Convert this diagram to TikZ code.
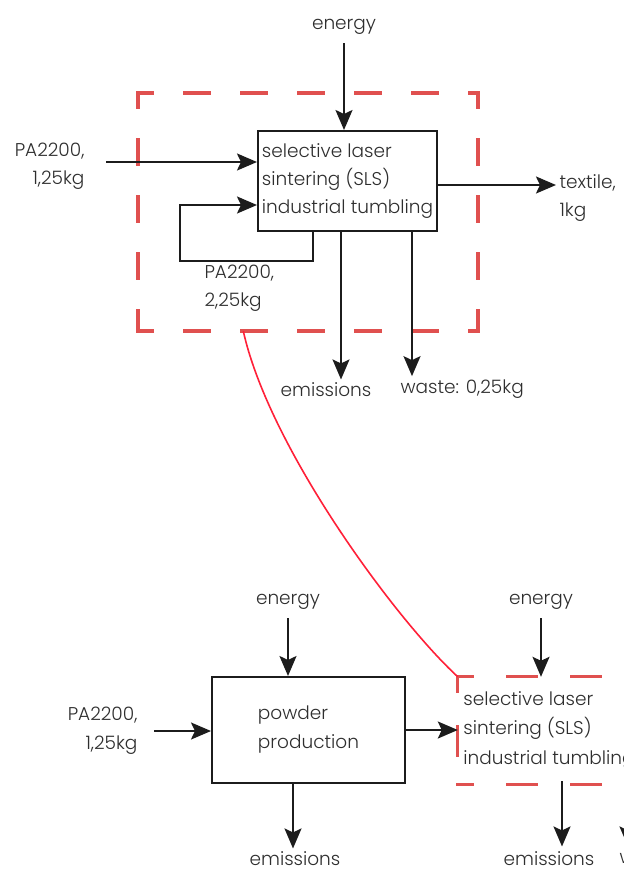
\documentclass[tikz,border=0pt]{standalone}
\usepackage{fontspec}
\IfFontExistsTF{Poppins Light}{\setmainfont{Poppins Light}}{\setmainfont{Poppins}}
\usetikzlibrary{arrows.meta,calc}

\definecolor{ink}{HTML}{1C1C1C}
\definecolor{txt}{HTML}{2E2E2E}
\definecolor{sysred}{HTML}{E0504F}
\definecolor{linkred}{HTML}{FF2038}

\tikzset{
    every node/.style={font=\fontsize{18.5}{28}\selectfont, text=txt},
    procbox/.style={draw=ink, line width=2pt, inner sep=0pt},
    sysbox/.style={inner sep=0pt},
    sysedge/.style={draw=sysred, line width=4pt, line cap=rect, dash pattern=on 24pt off 33pt, dash phase=10pt},
    flow/.style={draw=ink, line width=2pt, -{Stealth[length=20pt,width=17pt,inset=4pt]}},
    link/.style={draw=linkred, line width=1.6pt},
}

\begin{document}
\begin{tikzpicture}[x=1pt,y=-1pt]
    \useasboundingbox (0,0) rectangle (624,871);
    \clip (0,0) rectangle (624,871);

    % system with recycling loop
    \node[sysbox, minimum width=340pt, minimum height=238pt] (sysA) at (308,212) {};
    \foreach \a/\b in {north west/north east, north east/south east, south west/south east, north west/south west}
        \draw[sysedge] (sysA.\a) -- (sysA.\b);
    \node[procbox, minimum width=179pt, minimum height=100pt, align=left] (sls) at (347.5,181)
        {selective laser\\sintering (SLS)\\industrial tumbling};

    \node (enA) at (344,27) {energy};
    \node[align=right, anchor=east] (inA) at (88,166) {PA2200,\\1,25kg};
    \node[align=left, anchor=west] (txA) at (556,198) {textile,\\1kg};
    \node[align=left, anchor=west] (rcA) at (201,288) {PA2200,\\2,25kg};
    \node (emA) at (326,390) {emissions};
    \node[anchor=west] (wsA) at (397,389) {waste: 0,25kg};

    \draw[flow] ([yshift=-5pt]enA.south) -- (enA.south |- sls.north);
    \draw[flow] ([xshift=18pt,yshift=4pt]inA.east) -- ([yshift=4pt]inA.east -| sls.west);
    \draw[flow] ([yshift=-4pt]sls.east) -- ([yshift=-4pt]sls.east -| txA.west);
    \draw[flow] ([xshift=-34.5pt]sls.south) -- ++(0,29) -| ([xshift=-77pt,yshift=-24pt]sls.west)
        -- ([yshift=-24pt]sls.west);
    \draw[flow] ([xshift=-6.5pt]sls.south) -- ([xshift=-6.5pt]sls.south |- emA.north);
    \draw[flow] ([xshift=64.5pt]sls.south) -- ([xshift=64.5pt]sls.south |- wsA.north);

    % production chain
    \node[procbox, minimum width=193pt, minimum height=106pt, align=left,
        font=\fontsize{18.5}{29}\selectfont] (pp) at (308.5,730) {powder\\production};
    \node[sysbox, minimum width=182pt, minimum height=107pt, align=left,
        font=\fontsize{18.5}{29.5}\selectfont] (sysB) at (549,730.5)
        {selective laser\\sintering (SLS)\\industrial tumbling};
    \foreach \a/\b in {north west/north east, north east/south east, south west/south east, north west/south west}
        \draw[sysedge, line width=3pt, dash pattern=on 29pt off 35pt, dash phase=14.5pt] (sysB.\a) -- (sysB.\b);

    \node (enB) at (288,602) {energy};
    \node (enC) at (541,602) {energy};
    \node[align=right, anchor=east, font=\fontsize{18.5}{29}\selectfont] (inB) at (141,731) {PA2200,\\1,25kg};
    \node (emB) at (295,859) {emissions};
    \node (emC) at (549,859) {emissions};
    \node[anchor=west] (wsB) at (616,859) {waste: 0,25kg};

    \draw[flow] ([yshift=-5pt]enB.south) -- (enB.south |- pp.north);
    \draw[flow] ([yshift=-5pt]enC.south) -- (enC.south |- sysB.north);
    \draw[flow] ([xshift=13pt]inB.east) -- (inB.east -| pp.west);
    \draw[flow] (pp.east) -- (pp.east -| sysB.west);
    \draw[flow] ([xshift=-15.5pt]pp.south) -- ([xshift=-15.5pt]pp.south |- emB.north);
    \draw[flow] ([xshift=13pt,yshift=3pt]emC.north |- sysB.south) -- ([xshift=13pt,yshift=2pt]emC.north);
    \draw[flow] ([xshift=79pt,yshift=3pt]emC.north |- sysB.south) -- ([xshift=79pt,yshift=2pt]emC.north);

    \draw[link] ($(sysA.south west)!0.31!(sysA.south east)$) .. controls +(26,117) and +(-62,-57) .. (sysB.north west);
\end{tikzpicture}
\end{document}
